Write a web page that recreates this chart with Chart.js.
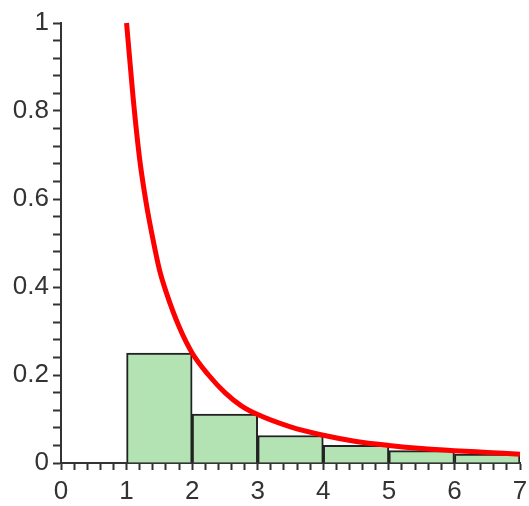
<!DOCTYPE html>
<html>
<head>
<meta charset="utf-8">
<script src="https://cdn.jsdelivr.net/npm/chart.js@4"></script>
<style>
  html, body { margin: 0; padding: 0; background: #fff; }
  #wrap { width: 529px; height: 506px; }
</style>
</head>
<body>
<div id="wrap"><canvas id="plot"></canvas></div>
<script>
// rectangles: centre of each unit strip and its height
const binCenters = [1.5, 2.5, 3.5, 4.5, 5.5, 6.5];
const binHeights = [0.25, 0.111, 0.0625, 0.04, 0.028, 0.0204];

// red curve
const curveX = [1, 1.1, 1.2, 1.3, 1.4, 1.5, 1.6, 1.8, 2, 2.25, 2.5, 2.75, 3, 3.5, 4, 4.5, 5, 5.5, 6, 6.5, 7];
const curveY = [1, 0.83, 0.69, 0.59, 0.51, 0.44, 0.39, 0.31, 0.25, 0.2, 0.16, 0.13, 0.11, 0.082, 0.063, 0.049, 0.04, 0.033, 0.028, 0.024, 0.02];

const xTickLabels = ["0", "1", "2", "3", "4", "5", "6", "7"];
const yTickLabels = ["0", "0.2", "0.4", "0.6", "0.8", "1"];

const axisColor = "#333";
const font = { family: "Liberation Sans, Arial, sans-serif", size: 26 };

function isMajor(v, step) {
    const r = v / step;
    return Math.abs(r - Math.round(r)) < 1e-6;
}

// one x unit in pixels, so each rectangle spans its whole strip
function unitWidth(c) {
    const x = c.chart.scales.x;
    return x.getPixelForValue(1) - x.getPixelForValue(0);
}

const ctx = document.getElementById("plot").getContext("2d");
new Chart(ctx, {
    type: "bar",
    data: {
        datasets: [{
            type: "line",
            data: curveX.map((x, i) => ({ x: x, y: curveY[i] })),
            borderColor: "#ff0000",
            borderWidth: 5,
            pointRadius: 0,
            cubicInterpolationMode: "monotone",
            fill: false,
            clip: false,
            order: 0
        }, {
            type: "bar",
            data: binCenters.map((x, i) => ({ x: x, y: binHeights[i] })),
            backgroundColor: "rgb(179, 227, 179)",
            borderColor: "#222",
            borderWidth: 2,
            barThickness: unitWidth,
            order: 1
        }]
    },
    options: {
        responsive: true,
        maintainAspectRatio: false,
        animation: false,
        layout: { padding: { top: 23, right: 9, left: 0, bottom: 0 } },
        plugins: { legend: { display: false }, tooltip: { enabled: false } },
        scales: {
            x: {
                type: "linear",
                min: 0,
                max: 7,
                offset: false,
                grid: { drawOnChartArea: false, tickLength: 7, tickWidth: 2, tickColor: axisColor, offset: false },
                border: { color: axisColor, width: 2 },
                ticks: {
                    stepSize: 0.2,
                    autoSkip: false,
                    maxRotation: 0,
                    padding: 6,
                    color: axisColor,
                    font: font,
                    callback: v => isMajor(v, 1) ? xTickLabels[Math.round(v)] : ""
                },
                afterFit: s => { s.height = 43; s.paddingRight = 0; s.paddingLeft = 0; }
            },
            y: {
                min: 0,
                max: 1,
                grid: { drawOnChartArea: false, tickLength: 8, tickWidth: 2, tickColor: axisColor },
                border: { color: axisColor, width: 2 },
                ticks: {
                    stepSize: 0.04,
                    autoSkip: false,
                    padding: 4,
                    color: axisColor,
                    font: font,
                    callback: v => isMajor(v, 0.2) ? yTickLabels[Math.round(v / 0.2)] : ""
                },
                afterFit: s => { s.width = 61; }
            }
        }
    }
});
</script>
</body>
</html>
